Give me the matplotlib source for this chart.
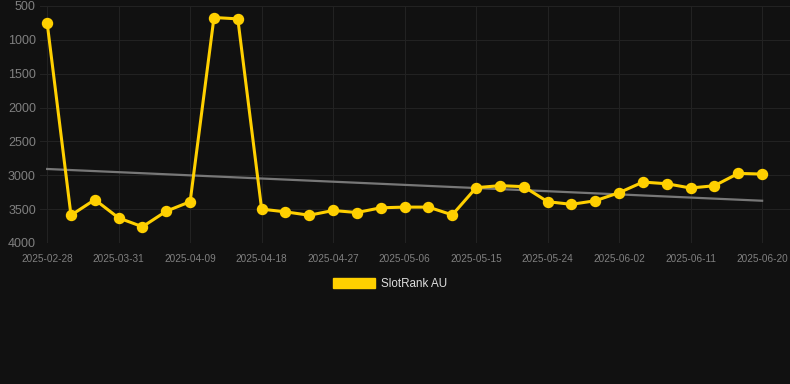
import numpy as np
import matplotlib
matplotlib.use("Agg")
import matplotlib.pyplot as plt
from matplotlib.patches import Patch

dates = ["2025-02-28", "2025-03-25", "2025-03-28", "2025-03-31", "2025-04-03",
         "2025-04-06", "2025-04-09", "2025-04-12", "2025-04-15", "2025-04-18",
         "2025-04-21", "2025-04-24", "2025-04-27", "2025-04-30", "2025-05-03",
         "2025-05-06", "2025-05-09", "2025-05-12", "2025-05-15", "2025-05-18",
         "2025-05-21", "2025-05-24", "2025-05-27", "2025-05-30", "2025-06-02",
         "2025-06-05", "2025-06-08", "2025-06-11", "2025-06-14", "2025-06-17",
         "2025-06-20"]
ranks = [750, 3590, 3360, 3630, 3760, 3530, 3390, 670, 690, 3500,
         3540, 3590, 3520, 3550, 3480, 3470, 3470, 3585, 3183, 3153,
         3168, 3390, 3429, 3376, 3257, 3100, 3125, 3188, 3154, 2972,
         2982]
trend_start = 2907
trend_end = 3376
series_name = "SlotRank AU"
yticks = [500, 1000, 1500, 2000, 2500, 3000, 3500, 4000]

bg = "#111111"
gold = "#FFD000"
fig = plt.figure(figsize=(7.9, 3.84), dpi=100, facecolor=bg)
ax = fig.add_axes([40/790, 1-243/384, 750/790, 237/384], facecolor=bg)

x = np.arange(len(dates))
ax.plot([x[0], x[-1]], [trend_start, trend_end], color="#777777", lw=1.6, zorder=2)
ax.plot(x, ranks, color=gold, lw=2.2, marker="o", ms=7.2, zorder=3)

ax.set_ylim(4000, 500)
ax.set_xlim(-0.3, 31.17)
ax.set_yticks(yticks)
ax.set_xticks(x[::3])
ax.set_xticklabels(dates[::3])
for lab in ax.get_xticklabels():
    lab.set_fontfamily("Liberation Sans")
    lab.set_fontsize(7.2)
    lab.set_color("#808080")
for lab in ax.get_yticklabels():
    lab.set_fontfamily("Liberation Sans")
    lab.set_fontsize(9)
    lab.set_color("#808080")
ax.tick_params(axis="x", length=0, pad=8)
ax.tick_params(axis="y", length=0, pad=3)
ax.grid(True, color="#222222", lw=0.8)
for s in ax.spines.values():
    s.set_visible(False)

handle = Patch(facecolor=gold, edgecolor=gold)
leg = fig.legend([handle], [series_name], loc="center", bbox_to_anchor=(390/790, 1-284/384),
                 frameon=False, handlelength=3.6, handleheight=1.0, handletextpad=0.5,
                 prop={"family": "Liberation Sans", "size": 8.4})
for t in leg.get_texts():
    t.set_color("#dddddd")

fig.savefig("out.png", dpi=100, facecolor=bg)
